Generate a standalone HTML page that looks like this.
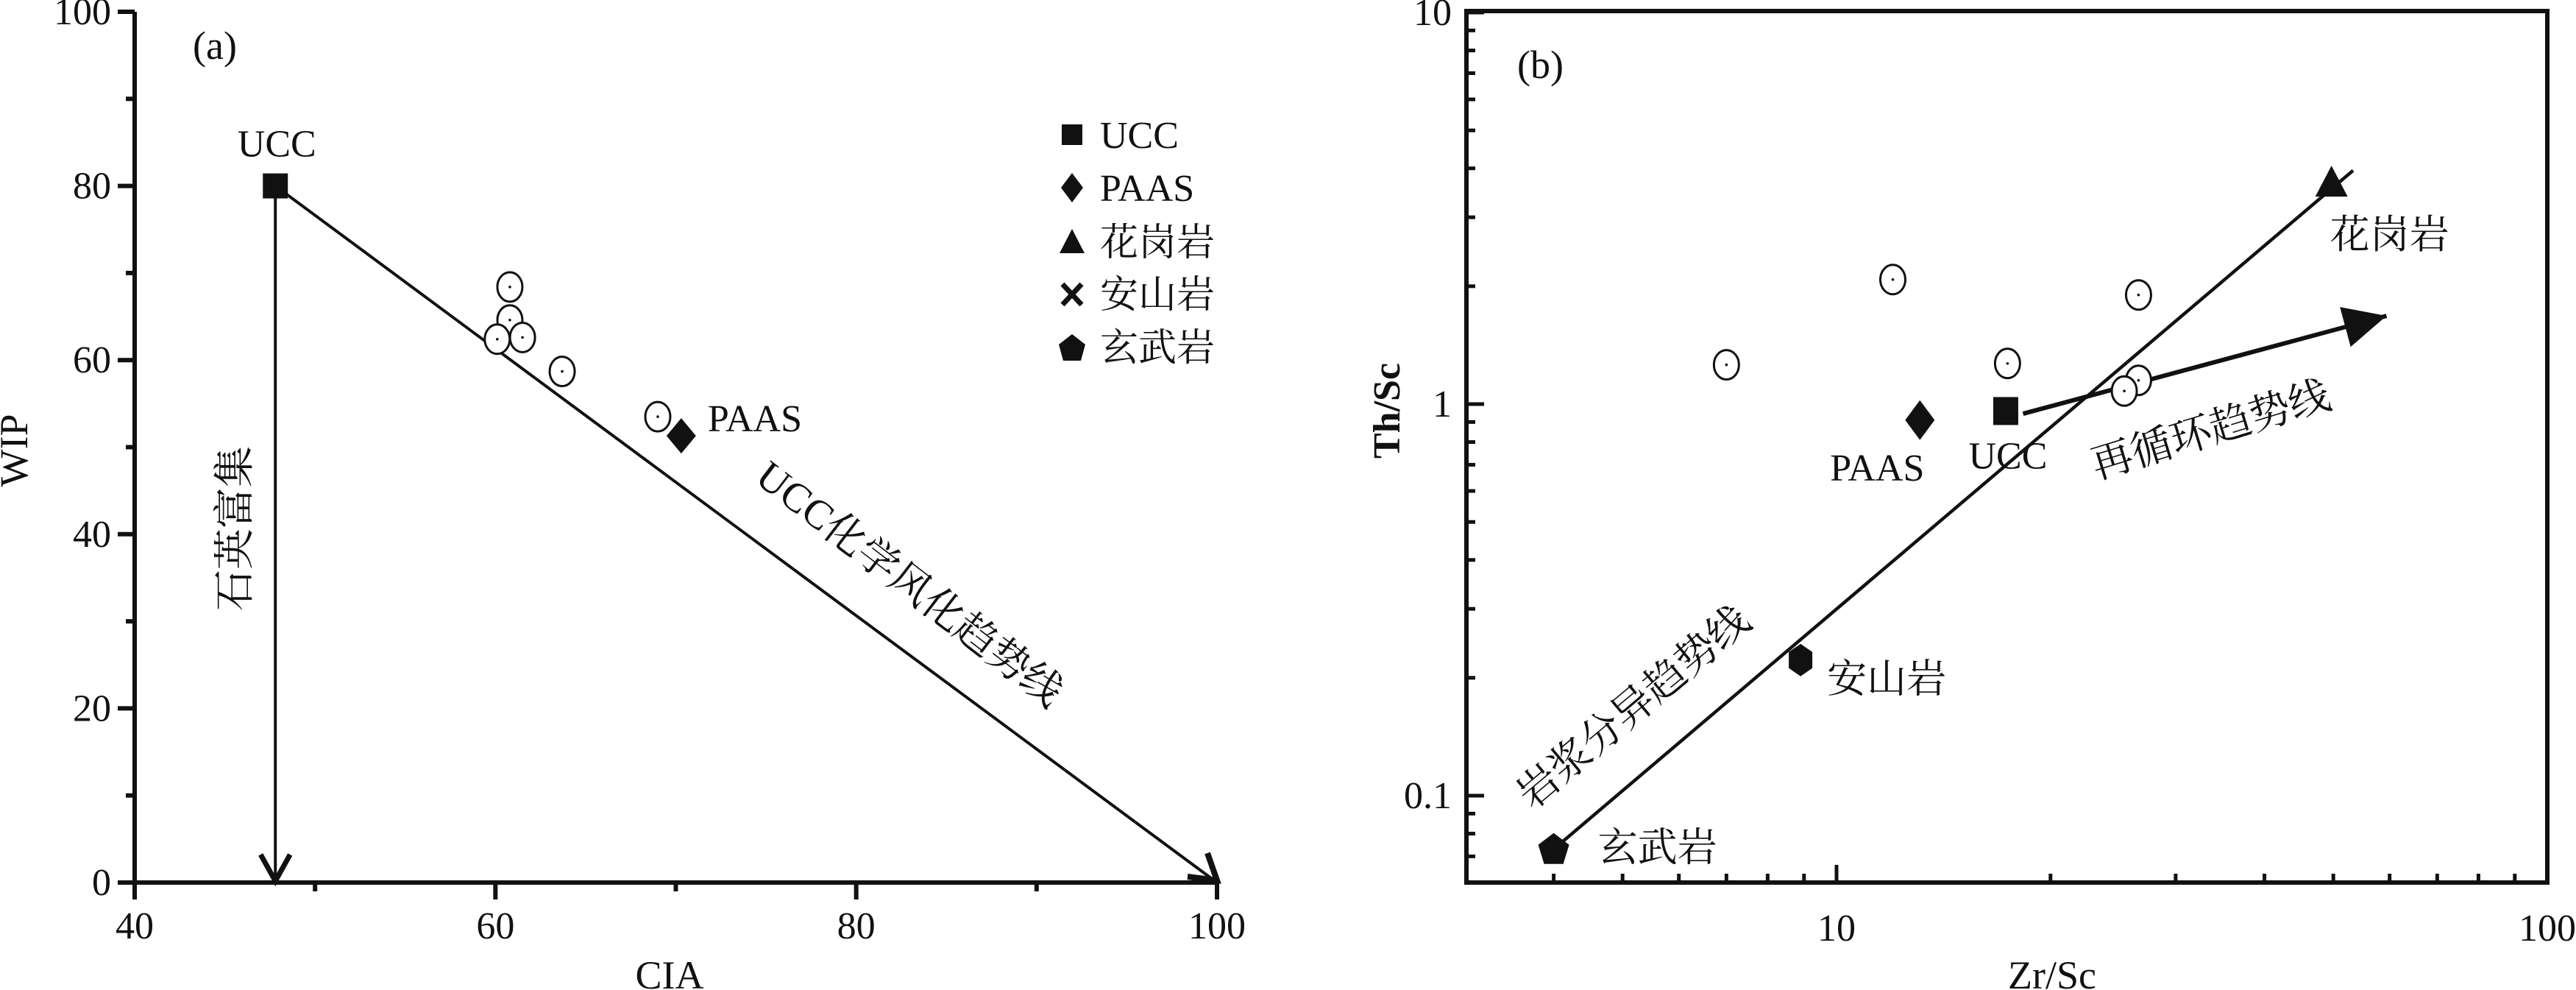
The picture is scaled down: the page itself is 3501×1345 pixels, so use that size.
<!DOCTYPE html>
<html><head><meta charset="utf-8"><style>
html,body{margin:0;padding:0;background:#fff;}
svg{display:block;}
svg text{font-family:"Liberation Serif","Noto Serif CJK SC","Noto Sans CJK SC",serif;}
</style></head><body>
<svg id="fig" width="3501" height="1345" viewBox="0 0 3501 1345" xmlns="http://www.w3.org/2000/svg" font-family="Liberation Serif, Noto Serif CJK SC, serif">
<g id="pa"></g>
<g id="pb"></g>
</svg>
<script>
// Panel A data
const aXTicks = [40, 60, 80, 100];
const aYTicks = [0, 20, 40, 60, 80, 100];
const aSampleCIA = [60.8, 60.8, 60.1, 61.5, 63.7, 69.0];
const aSampleWIP = [68.4, 64.6, 62.4, 62.6, 58.7, 53.5];
const aUCC = [47.8, 80];
const aPAAS = [70.3, 51.3];
const aLegend = ["UCC", "PAAS", "花岗岩", "安山岩", "玄武岩"];
// Panel B data
const bXTicks = [10, 100];
const bYTicks = [0.1, 1, 10];
const bSampleZr = [7.0, 12.0, 17.4, 26.6, 26.6, 25.4];
const bSampleTh = [1.26, 2.08, 1.27, 1.90, 1.15, 1.08];
const bUCC = [17.3, 0.96];
const bPAAS = [13.1, 0.91];
const bGranite = [49.7, 3.63];
const bAndesite = [8.9, 0.222];
const bBasalt = [4.0, 0.073];
const bMagmaEnd = [53.3, 3.95];
const bRecycleStart = [18.3, 0.945];
const bRecycleEnd = [59.4, 1.68];

const NS = "http://www.w3.org/2000/svg";
const FONT = '"Liberation Serif", "Noto Serif CJK SC", "Noto Sans CJK SC", serif';
function mk(parent, tag, attrs, text) {
  const e = document.createElementNS(NS, tag);
  for (const k in attrs) e.setAttribute(k, attrs[k]);
  if (text !== undefined) { e.textContent = text; e.style.fontFamily = FONT; }
  parent.appendChild(e);
  return e;
}
const pa = document.getElementById('pa');
const pb = document.getElementById('pb');

// ---- Panel A axes
const aL = 183, aR = 1654, aT = 16, aB = 1199;
const ax = v => aL + (v - 40) / 60 * (aR - aL);
const ay = v => aB - v / 100 * (aB - aT);
let e;
e = mk(pa, 'line', {x1: aL, y1: aT, x2: aL, y2: aB + 23, stroke: '#111', 'stroke-width': 6});
 
e = mk(pa, 'line', {x1: aL - 23, y1: aB, x2: aR, y2: aB, stroke: '#111', 'stroke-width': 6});
 
for (let v = 0; v <= 100; v += 10) {
  const len = v % 20 === 0 ? 23 : 12;
  e = mk(pa, 'line', {x1: aL - len, y1: ay(v), x2: aL, y2: ay(v), stroke: '#111', 'stroke-width': 6});
   
}
for (let v = 40; v <= 100; v += 10) {
  const len = v % 20 === 0 ? 23 : 12;
  e = mk(pa, 'line', {x1: ax(v), y1: aB, x2: ax(v), y2: aB + len, stroke: '#111', 'stroke-width': 6});
   
}
aYTicks.forEach(v => {
  e = mk(pa, 'text', {x: aL - 32, y: ay(v) + 17, 'font-size': 52, 'text-anchor': 'end', fill: '#111'}, String(v));
   
});
aXTicks.forEach(v => {
  e = mk(pa, 'text', {x: ax(v), y: 1275, 'font-size': 52, 'text-anchor': 'middle', fill: '#111'}, String(v));
   
});
e = mk(pa, 'text', {x: 910, y: 1343, 'font-size': 54, 'text-anchor': 'middle', fill: '#111'}, 'CIA');
 
e = mk(pa, 'text', {x: 0, y: 0, 'font-size': 54, 'text-anchor': 'middle', fill: '#111', transform: 'translate(37,612) rotate(-90)'}, 'WIP');
 
e = mk(pa, 'text', {x: 262, y: 80, 'font-size': 54, fill: '#111'}, '(a)');
 

// trend lines A
const ux = ax(aUCC[0]), uy = ay(aUCC[1]);
e = mk(pa, 'line', {x1: ux, y1: uy, x2: ux, y2: aB - 3, stroke: '#111', 'stroke-width': 4});
 
e = mk(pa, 'polyline', {points: `${ux-20},${aB-38} ${ux},${aB-2} ${ux+20},${aB-38}`, fill: 'none', stroke: '#111', 'stroke-width': 7});
 
const ex = ax(100), ey = ay(0);
e = mk(pa, 'line', {x1: ux, y1: uy, x2: ex, y2: ey, stroke: '#111', 'stroke-width': 4});
 
e = mk(pa, 'polyline', {points: `${ex-13},${ey-40} ${ex},${ey-3} ${ex-40},${ey-8}`, fill: 'none', stroke: '#111', 'stroke-width': 8});
 
e = mk(pa, 'text', {x: 0, y: 0, 'font-size': 56, 'text-anchor': 'middle', fill: '#111', transform: 'translate(338,718) rotate(-90)'}, '石英富集');
 
e = mk(pa, 'text', {x: 0, y: 0, 'font-size': 56, 'text-anchor': 'middle', fill: '#111', transform: 'translate(1225,808) rotate(37.5)'}, 'UCC化学风化趋势线');
 

// samples A
aSampleCIA.forEach((c, i) => {
  const cx = ax(c), cy = ay(aSampleWIP[i]);
  e = mk(pa, 'ellipse', {cx, cy, rx: 17, ry: 20, fill: '#fff', stroke: '#111', 'stroke-width': 3});
   
  mk(pa, 'circle', {cx, cy, r: 1.8, fill: '#111'});
});
e = mk(pa, 'rect', {x: ux - 17, y: uy - 17, width: 34, height: 34, fill: '#111'});
 
e = mk(pa, 'text', {x: ux + 2, y: uy - 40, 'font-size': 52, 'text-anchor': 'middle', fill: '#111'}, 'UCC');
 
const px = ax(aPAAS[0]), py = ay(aPAAS[1]);
e = mk(pa, 'polygon', {points: `${px},${py-24} ${px+20},${py} ${px},${py+24} ${px-20},${py}`, fill: '#111'});
 
e = mk(pa, 'text', {x: px + 36, y: py - 6, 'font-size': 52, fill: '#111'}, 'PAAS');
 

// legend
const legY = [183, 255, 329, 400, 472];
const lx = 1457;
aLegend.forEach((t, i) => {
  const y = legY[i];
  let m;
  if (i === 0) m = mk(pa, 'rect', {x: lx - 14, y: y - 14, width: 28, height: 28, fill: '#111'});
  else if (i === 1) m = mk(pa, 'polygon', {points: `${lx},${y-20} ${lx+15},${y} ${lx},${y+20} ${lx-15},${y}`, fill: '#111'});
  else if (i === 2) m = mk(pa, 'polygon', {points: `${lx},${y-18} ${lx+17},${y+15} ${lx-17},${y+15}`, fill: '#111'});
  else if (i === 3) { m = mk(pa, 'path', {d: `M${lx-13},${y-14} L${lx+13},${y+14} M${lx+13},${y-14} L${lx-13},${y+14}`, stroke: '#111', 'stroke-width': 7}); }
  else m = mk(pa, 'polygon', {points: `${lx},${y-18} ${lx+18},${y-4} ${lx+12},${y+18} ${lx-12},${y+18} ${lx-18},${y-4}`, fill: '#111'});
   
  e = mk(pa, 'text', {x: lx + 38, y: y + 18, 'font-size': 52, fill: '#111'}, t);
   
});

// ---- Panel B axes (log-log)
const bL = 1993, bR = 3462, bT = 15, bB = 1199;
const bx = v => 2496 + (Math.log10(v) - 1) * 966;
const by = v => 549 - Math.log10(v) * 532;
e = mk(pb, 'rect', {x: bL, y: bT, width: bR - bL, height: bB - bT, fill: 'none', stroke: '#111', 'stroke-width': 6});
 
[0.01, 0.1, 1].forEach(dec => {
  for (let k = 1; k <= 9; k++) {
    const val = dec * k;
    if (val < 0.06 || val > 10) continue;
    const len = k === 1 ? 24 : 12;
    e = mk(pb, 'line', {x1: bL, y1: by(val), x2: bL + len, y2: by(val), stroke: '#111', 'stroke-width': 5});
     
  }
});
e = mk(pb, 'line', {x1: bL, y1: by(10), x2: bL + 24, y2: by(10), stroke: '#111', 'stroke-width': 5});
 
[1, 10].forEach(dec => {
  for (let k = 1; k <= 9; k++) {
    const val = dec * k;
    if (val < 3.5 || val > 100) continue;
    const len = k === 1 ? 24 : 12;
    e = mk(pb, 'line', {x1: bx(val), y1: bB, x2: bx(val), y2: bB - len, stroke: '#111', 'stroke-width': 5});
     
  }
});
bYTicks.forEach(v => {
  e = mk(pb, 'text', {x: bL - 20, y: by(v) + 17, 'font-size': 52, 'text-anchor': 'end', fill: '#111'}, String(v));
   
});
bXTicks.forEach(v => {
  e = mk(pb, 'text', {x: bx(v), y: 1278, 'font-size': 52, 'text-anchor': 'middle', fill: '#111'}, String(v));
   
});
e = mk(pb, 'text', {x: 2789, y: 1343, 'font-size': 54, 'text-anchor': 'middle', fill: '#111'}, 'Zr/Sc');
 
e = mk(pb, 'text', {x: 0, y: 0, 'font-size': 52, 'font-weight': 'bold', 'text-anchor': 'middle', fill: '#111', transform: 'translate(1902,558) rotate(-90)'}, 'Th/Sc');
 
e = mk(pb, 'text', {x: 2062, y: 106, 'font-size': 54, fill: '#111'}, '(b)');
 

// trend lines B
const m1x = bx(bBasalt[0]), m1y = by(bBasalt[1]), m2x = bx(bMagmaEnd[0]), m2y = by(bMagmaEnd[1]);
e = mk(pb, 'line', {x1: m1x, y1: m1y, x2: m2x, y2: m2y, stroke: '#111', 'stroke-width': 4.5});
 
const r1x = bx(bRecycleStart[0]), r1y = by(bRecycleStart[1]), r2x = bx(bRecycleEnd[0]), r2y = by(bRecycleEnd[1]);
e = mk(pb, 'line', {x1: r1x, y1: r1y, x2: r2x, y2: r2y, stroke: '#111', 'stroke-width': 6});
 
{
  const ang = Math.atan2(r2y - r1y, r2x - r1x), L = 58, W = 28;
  const bxp = r2x - L * Math.cos(ang), byp = r2y - L * Math.sin(ang);
  const nx = -Math.sin(ang) * W, ny = Math.cos(ang) * W;
  e = mk(pb, 'polygon', {points: `${r2x},${r2y} ${bxp+nx},${byp+ny} ${bxp-nx},${byp-ny}`, fill: '#111'});
   
}
e = mk(pb, 'text', {x: 0, y: 0, 'font-size': 56, 'text-anchor': 'middle', fill: '#111', transform: 'translate(2232,975) rotate(-40)'}, '岩浆分异趋势线');
 
e = mk(pb, 'text', {x: 0, y: 0, 'font-size': 56, 'text-anchor': 'middle', fill: '#111', transform: 'translate(3010,602) rotate(-17)'}, '再循环趋势线');
 

// samples B
bSampleZr.forEach((z, i) => {
  const cx = bx(z), cy = by(bSampleTh[i]);
  e = mk(pb, 'ellipse', {cx, cy, rx: 17, ry: 20, fill: '#fff', stroke: '#111', 'stroke-width': 3});
   
  mk(pb, 'circle', {cx, cy, r: 1.8, fill: '#111'});
});
{
  const x = bx(bUCC[0]), y = by(bUCC[1]);
  e = mk(pb, 'rect', {x: x - 17, y: y - 19, width: 34, height: 38, fill: '#111'});
   
  e = mk(pb, 'text', {x: x + 3, y: y + 78, 'font-size': 52, 'text-anchor': 'middle', fill: '#111'}, 'UCC');
   
}
{
  const x = bx(bPAAS[0]), y = by(bPAAS[1]);
  e = mk(pb, 'polygon', {points: `${x},${y-27} ${x+20},${y} ${x},${y+27} ${x-20},${y}`, fill: '#111'});
   
  e = mk(pb, 'text', {x: x - 58, y: y + 82, 'font-size': 52, 'text-anchor': 'middle', fill: '#111'}, 'PAAS');
   
}
{
  const x = bx(bGranite[0]), y = by(bGranite[1]);
  e = mk(pb, 'polygon', {points: `${x},${y-26} ${x+22},${y+16} ${x-22},${y+16}`, fill: '#111'});
   
  e = mk(pb, 'text', {x: x - 2, y: y + 86, 'font-size': 54, fill: '#111'}, '花岗岩');
   
}
{
  const x = bx(bAndesite[0]), y = by(bAndesite[1]);
  e = mk(pb, 'polygon', {points: `${x},${y-22} ${x+16},${y-11} ${x+16},${y+11} ${x},${y+22} ${x-16},${y+11} ${x-16},${y-11}`, fill: '#111'});
   
  e = mk(pb, 'text', {x: x + 36, y: y + 44, 'font-size': 54, fill: '#111'}, '安山岩');
   
}
{
  const x = bx(bBasalt[0]), y = by(bBasalt[1]);
  e = mk(pb, 'polygon', {points: `${x},${y-22} ${x+21},${y-6} ${x+13},${y+20} ${x-13},${y+20} ${x-21},${y-6}`, fill: '#111'});
   
  e = mk(pb, 'text', {x: x + 60, y: y + 16, 'font-size': 54, fill: '#111'}, '玄武岩');
   
}
</script>
</body></html>
